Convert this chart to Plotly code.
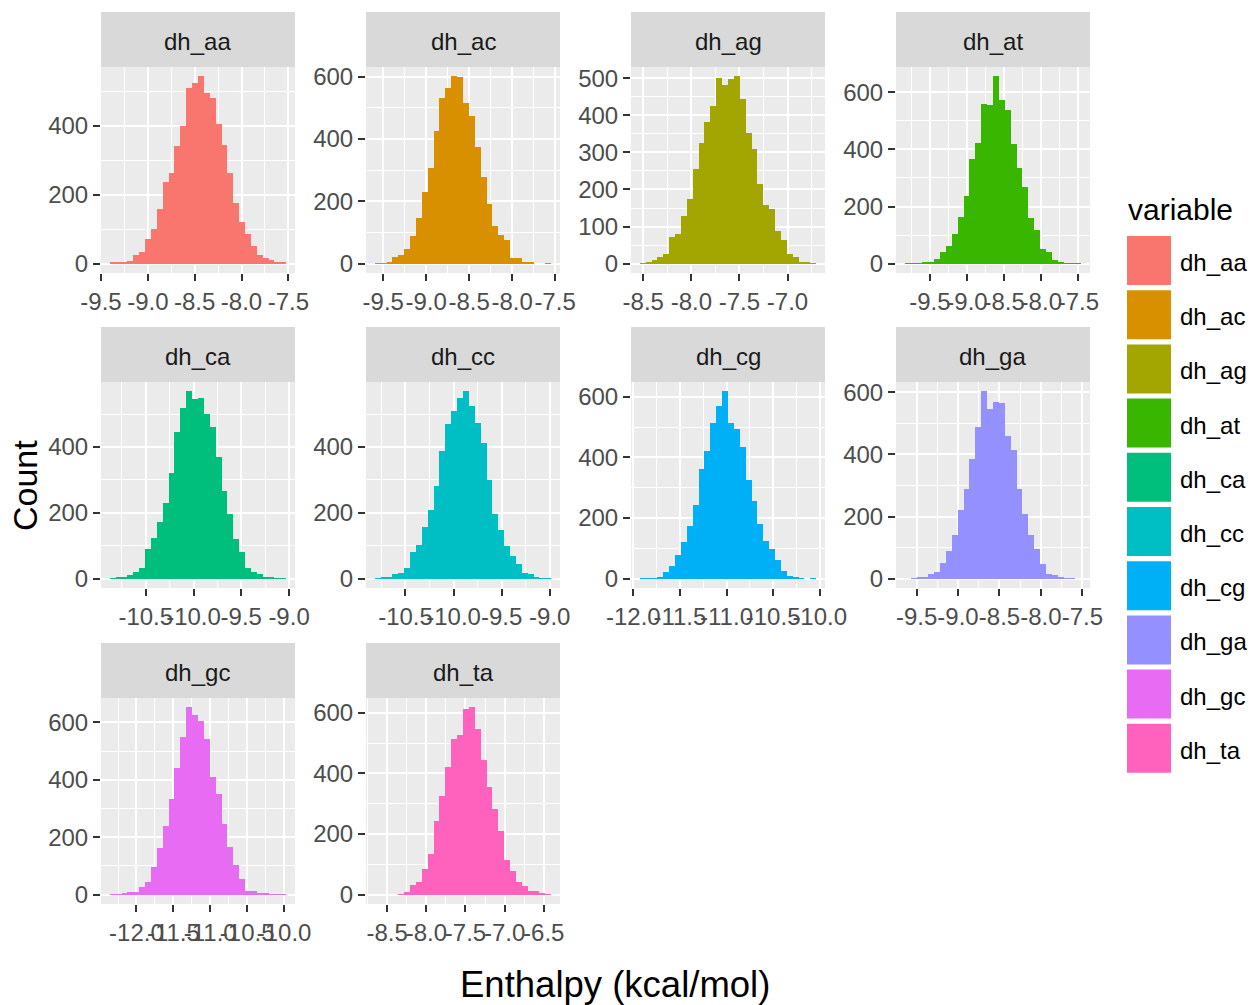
import numpy as np
import plotly.graph_objects as go

# ---------------------------------------------------------------------------
# Data: 30-bin histograms of enthalpy samples (kcal/mol), one per variable
# ---------------------------------------------------------------------------
variables = ["dh_aa", "dh_ac", "dh_ag", "dh_at", "dh_ca",
             "dh_cc", "dh_cg", "dh_ga", "dh_gc", "dh_ta"]
colors = ["#F8766D", "#D89000", "#A3A500", "#39B600", "#00BF7D",
          "#00BFC4", "#00B0F6", "#9590FF", "#E76BF3", "#FF62BC"]

# lowest / highest bin edge of each histogram
bin_lo = [-9.406, -9.598, -8.536, -9.837, -10.876, -10.819, -11.930, -9.642, -12.361, -8.658]
bin_hi = [-7.523, -7.545, -6.702, -7.463, -9.030, -8.985, -10.038, -7.514, -9.971, -6.405]

counts_aa = [2, 4, 6, 8, 26, 35, 70, 100, 157, 237, 262, 340, 398, 509, 525,
             543, 496, 479, 405, 343, 264, 176, 120, 85, 50, 26, 15, 10, 5, 2]
counts_ac = [1, 1, 6, 20, 27, 48, 88, 148, 231, 308, 425, 530, 564, 601, 598,
             516, 473, 373, 279, 190, 121, 93, 75, 17, 17, 5, 3, 0, 0, 1]
counts_ag = [1, 5, 11, 18, 27, 71, 81, 128, 174, 254, 326, 381, 425, 500, 482,
             497, 505, 444, 351, 309, 215, 159, 148, 88, 63, 27, 17, 5, 4, 1]
counts_at = [1, 1, 1, 5, 6, 15, 40, 63, 105, 163, 236, 368, 424, 558, 555,
             656, 572, 537, 418, 334, 268, 160, 118, 51, 42, 12, 5, 1, 1, 1]
counts_ca = [1, 2, 5, 12, 19, 31, 91, 122, 173, 230, 320, 445, 517, 569, 545,
             550, 499, 460, 370, 267, 196, 120, 80, 33, 20, 15, 6, 3, 1, 1]
counts_cc = [1, 3, 5, 13, 18, 33, 80, 103, 158, 209, 280, 388, 471, 509, 550,
             569, 524, 472, 413, 300, 197, 148, 100, 68, 45, 18, 13, 5, 1, 1]
counts_cg = [1, 1, 2, 5, 21, 43, 77, 122, 173, 244, 361, 421, 513, 570, 618,
             513, 495, 436, 326, 256, 179, 125, 97, 60, 25, 10, 4, 1, 0, 1]
counts_ga = [0, 1, 3, 5, 14, 21, 51, 89, 142, 220, 289, 386, 487, 603, 545,
             569, 565, 460, 413, 289, 207, 139, 96, 48, 16, 13, 5, 2, 1, 0]
counts_gc = [1, 2, 4, 8, 8, 26, 44, 95, 161, 240, 334, 442, 550, 652, 627,
             606, 541, 411, 349, 247, 166, 102, 55, 13, 13, 7, 4, 1, 1, 1]
counts_ta = [0, 0, 0, 0, 1, 9, 31, 42, 83, 135, 242, 326, 421, 512, 526,
             611, 618, 546, 444, 355, 284, 211, 114, 77, 43, 28, 13, 11, 7, 1]

all_counts = [counts_aa, counts_ac, counts_ag, counts_at, counts_ca,
              counts_cc, counts_cg, counts_ga, counts_gc, counts_ta]

# axis breaks for each facet
x_ticks = [
    [-9.5, -9.0, -8.5, -8.0, -7.5],
    [-9.5, -9.0, -8.5, -8.0, -7.5],
    [-8.5, -8.0, -7.5, -7.0],
    [-9.5, -9.0, -8.5, -8.0, -7.5],
    [-10.5, -10.0, -9.5, -9.0],
    [-10.5, -10.0, -9.5, -9.0],
    [-12.0, -11.5, -11.0, -10.5, -10.0],
    [-9.5, -9.0, -8.5, -8.0, -7.5],
    [-12.0, -11.5, -11.0, -10.5, -10.0],
    [-8.5, -8.0, -7.5, -7.0, -6.5],
]
y_ticks = [
    [0, 200, 400],
    [0, 200, 400, 600],
    [0, 100, 200, 300, 400, 500],
    [0, 200, 400, 600],
    [0, 200, 400],
    [0, 200, 400],
    [0, 200, 400, 600],
    [0, 200, 400, 600],
    [0, 200, 400, 600],
    [0, 200, 400, 600],
]

x_title = "Enthalpy (kcal/mol)"
y_title = "Count"
legend_title = "variable"

# ---------------------------------------------------------------------------
# Geometry (pixels) of the facet grid
# ---------------------------------------------------------------------------
W, H = 1251, 1005
col_left = [101, 366, 631, 896]
panel_w = 194
row_strip_top = [12, 327, 643]
strip_h = 55
panel_h = 206

FONT = "Liberation Sans, Arial, sans-serif"
TICK_FONT = dict(family=FONT, size=24, color="#4D4D4D")


def fx(px):
    return px / W


def fy(py):
    return 1 - py / H


fig = go.Figure()
layout = dict(
    width=W, height=H,
    margin=dict(l=0, r=0, t=0, b=0, autoexpand=False),
    paper_bgcolor="white",
    plot_bgcolor="#EBEBEB",
    showlegend=False,
    barmode="overlay",
    bargap=0,
    font=dict(family=FONT),
)
shapes = []
annotations = []

for i, (name, col, counts) in enumerate(zip(variables, colors, all_counts)):
    r, c = divmod(i, 4)
    x0 = col_left[c]
    x1 = x0 + panel_w
    s_top = row_strip_top[r]
    p_top = s_top + strip_h
    p_bot = p_top + panel_h

    lo, hi = bin_lo[i], bin_hi[i]
    n = len(counts)
    width = (hi - lo) / n
    centers = lo + width * (np.arange(n) + 0.5)
    span = hi - lo
    ymax = max(counts)

    suffix = "" if i == 0 else str(i + 1)
    xa, ya = "xaxis" + suffix, "yaxis" + suffix
    xr, yr = "x" + suffix, "y" + suffix

    fig.add_trace(go.Bar(
        x=centers, y=counts, width=width,
        marker=dict(color=col, line=dict(width=0)),
        xaxis=xr, yaxis=yr, name=name, showlegend=False,
        hovertemplate="%{x:.2f}: %{y}<extra>" + name + "</extra>",
    ))

    xt = x_ticks[i]
    xstep = xt[1] - xt[0]
    x_minor = [xt[0] - xstep / 2] + [t + xstep / 2 for t in xt]
    yt = y_ticks[i]
    ystep = yt[1] - yt[0]
    y_minor = [t + ystep / 2 for t in yt]

    layout[xa] = dict(
        domain=[fx(x0), fx(x1)], anchor=yr, automargin=False,
        range=[lo - 0.05 * span, hi + 0.05 * span],
        tickmode="array", tickvals=xt, ticktext=[f"{v:.1f}" for v in xt],
        tickangle=0, ticks="outside", ticklen=7, tickwidth=2, tickcolor="#333333",
        tickfont=TICK_FONT, showgrid=True, gridcolor="white", gridwidth=2.2,
        zeroline=False, showline=False,
        minor=dict(tickmode="array", tickvals=x_minor, showgrid=True,
                   gridcolor="white", gridwidth=1.1, ticks=""),
    )
    layout[ya] = dict(
        domain=[fy(p_bot), fy(p_top)], anchor=xr, automargin=False,
        range=[-0.05 * ymax, 1.05 * ymax],
        tickmode="array", tickvals=yt, ticktext=[str(v) for v in yt],
        ticks="outside", ticklen=7, tickwidth=2, tickcolor="#333333",
        tickfont=TICK_FONT, showgrid=True, gridcolor="white", gridwidth=2.2,
        zeroline=False, showline=False,
        minor=dict(tickmode="array", tickvals=y_minor, showgrid=True,
                   gridcolor="white", gridwidth=1.1, ticks=""),
    )

    # facet strip
    shapes.append(dict(type="rect", xref="paper", yref="paper",
                       x0=fx(x0), x1=fx(x1), y0=fy(p_top), y1=fy(s_top),
                       fillcolor="#D9D9D9", line=dict(width=0), layer="below"))
    annotations.append(dict(text=name, xref="paper", yref="paper",
                            x=fx((x0 + x1) / 2), y=fy(s_top + strip_h / 2 + 2),
                            xanchor="center", yanchor="middle", showarrow=False,
                            font=dict(family=FONT, size=24, color="#1A1A1A")))

# axis titles
annotations.append(dict(text=x_title, xref="paper", yref="paper",
                        x=fx(615), y=fy(984), xanchor="center", yanchor="middle",
                        showarrow=False, font=dict(family=FONT, size=36.5, color="black")))
annotations.append(dict(text=y_title, xref="paper", yref="paper",
                        x=fx(25), y=fy(485), xanchor="center", yanchor="middle",
                        textangle=-90, showarrow=False,
                        font=dict(family=FONT, size=34, color="black")))

# legend
annotations.append(dict(text=legend_title, xref="paper", yref="paper",
                        x=fx(1126), y=fy(210), xanchor="left", yanchor="middle",
                        showarrow=False, font=dict(family=FONT, size=30, color="black")))
key_top, key_pitch, key_h, key_w = 236, 54.2, 49, 44
for k, (name, col) in enumerate(zip(variables, colors)):
    ky0 = key_top + k * key_pitch
    shapes.append(dict(type="rect", xref="paper", yref="paper",
                       x0=fx(1127), x1=fx(1127 + key_w), y0=fy(ky0 + key_h), y1=fy(ky0),
                       fillcolor=col, line=dict(width=0)))
    annotations.append(dict(text=name, xref="paper", yref="paper",
                            x=fx(1178), y=fy(ky0 + key_h / 2 + 2), xanchor="left",
                            yanchor="middle", showarrow=False,
                            font=dict(family=FONT, size=24, color="black")))

layout["shapes"] = shapes
layout["annotations"] = annotations
fig.update_layout(**layout)

fig.write_html("out.html")
